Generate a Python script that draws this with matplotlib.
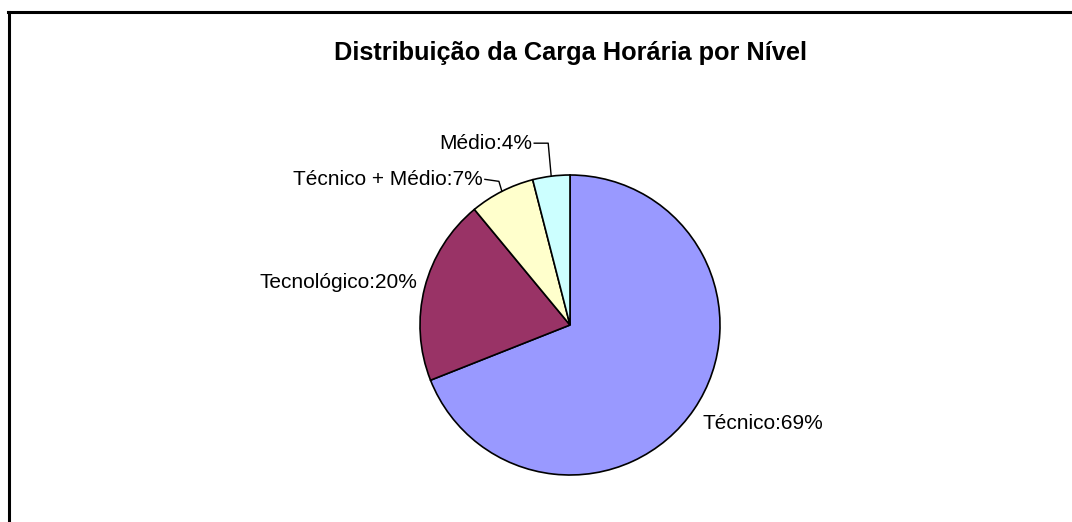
import numpy as np
import matplotlib
matplotlib.use("Agg")
import matplotlib.pyplot as plt
from matplotlib.lines import Line2D

# chart data
labels = ["Técnico", "Tecnológico", "Técnico + Médio", "Médio"]
values = [69, 20, 7, 4]
colors = ["#9999FF", "#993366", "#FFFFCC", "#CCFFFF"]

plt.rcParams['font.family'] = ['Liberation Sans', 'DejaVu Sans']

W, H = 1072, 522
fig = plt.figure(figsize=(W / 100, H / 100), dpi=100)
ax = fig.add_axes([0, 0, 1, 1])

cx, cy, r = 570, H - 325, 150
wedges, _ = ax.pie(values, colors=colors, startangle=90, counterclock=False,
                   center=(cx, cy), radius=r, frame=True,
                   wedgeprops=dict(edgecolor='black', linewidth=1.2))
ax.set_xlim(0, W)
ax.set_ylim(0, H)
ax.set_aspect('equal')
ax.axis('off')

# frame around the chart area
fig.add_artist(Line2D([9 / W, 9 / W], [0, 1 - 12 / H], color='black', lw=2.2,
                      transform=fig.transFigure))
fig.add_artist(Line2D([8 / W, 1], [1 - 12 / H, 1 - 12 / H], color='black', lw=2.2,
                      transform=fig.transFigure))

ax.text(cx, H - 60, "Distribuição da Carga Horária por Nível", ha='center',
        va='baseline', fontsize=18.3, fontweight='bold')

fs = 15
for w, lab, v in zip(wedges, labels, values):
    mid = np.deg2rad((w.theta1 + w.theta2) / 2)
    ex, ey = cx + r * np.cos(mid), cy + r * np.sin(mid)
    txt = f"{lab}:{v}%"
    if lab == "Técnico":
        ax.text(ex + 8, ey - 14, txt, ha='left', va='center', fontsize=fs)
    elif lab == "Tecnológico":
        ax.text(ex - 7, ey + 5, txt, ha='right', va='center', fontsize=fs)
    else:
        # leader line: up from the slice edge, then left to the label
        small = lab == "Médio"
        top = ey + (33 if small else 10)
        end = top if small else top + 2
        ax.plot([ex, ex - 3, ex - 17], [ey, top, end], color='black', lw=1)
        ax.text(ex - 19, end, txt, ha='right', va='center', fontsize=fs)

fig.savefig("out.png", dpi=100, facecolor='white')
